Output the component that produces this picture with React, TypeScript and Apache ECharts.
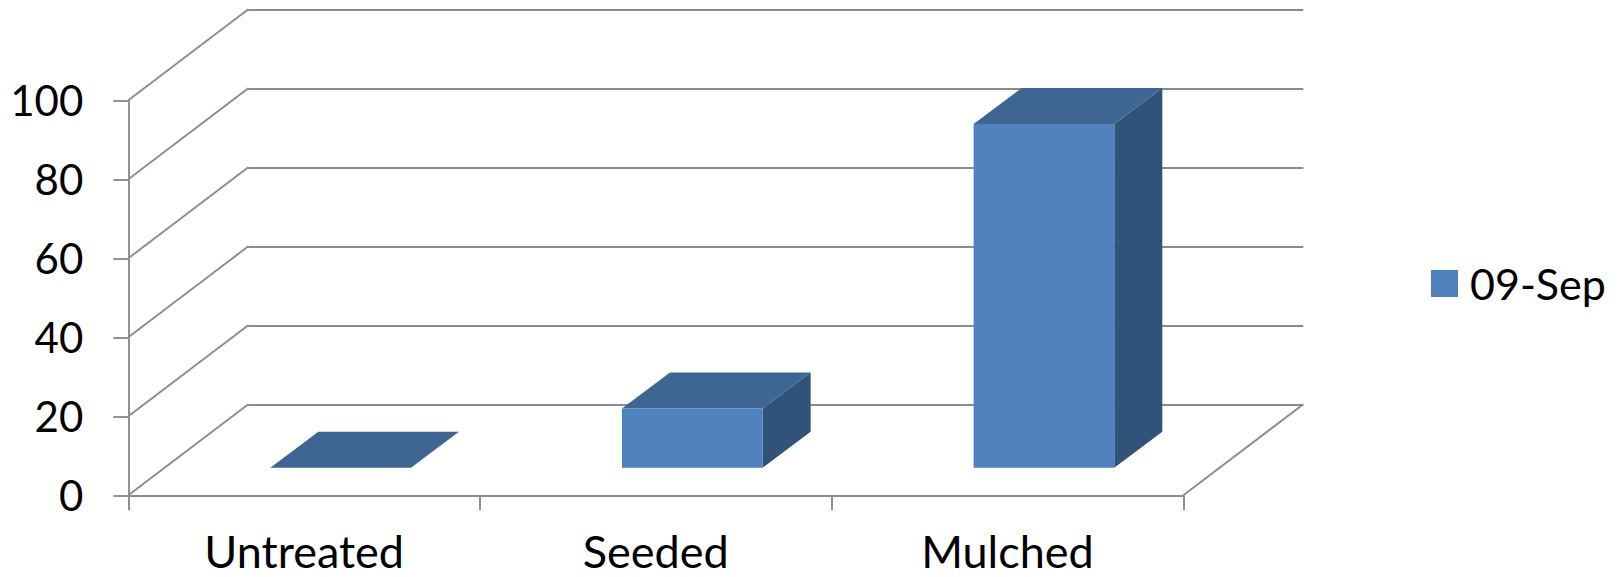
import React, { useEffect, useRef } from "react";
import * as echarts from "echarts";

const categories = ["Untreated", "Seeded", "Mulched"];
const seriesName = "09-Sep";
const seriesValues = [0, 15, 87];
const valueTicks = [0, 20, 40, 60, 80, 100];

const WIDTH = 1622;
const HEIGHT = 577;
const FONT = "Lato, 'Noto Sans', sans-serif";
const LINE = "#8c8c8c";
const LINE_WIDTH = 1.9;
const FRONT = "#4f81bd";
const TOP = "#3f6592";
const SIDE = "#325379";

// Plot box of the front plane; the rear wall is the same box pushed back by WALL_DX/WALL_DY.
const LEFT = 128.3;
const RIGHT = 1183.3;
const TOP_Y = 100.3;
const BOTTOM_Y = 495.3;
const WALL_DX = 120;
const WALL_DY = 91;
// Bars stand mid-way through the floor's depth.
const BAR_SHIFT_X = 36.5;
const BAR_SHIFT_Y = 27.6;
const BAR_DEPTH_X = 48;
const BAR_DEPTH_Y = 36;
const BAR_RATIO = 0.4;

const lineStyle = { stroke: LINE, lineWidth: LINE_WIDTH, fill: "none" };

export default function App() {
  const ref = useRef<HTMLDivElement>(null);

  useEffect(() => {
    if (!ref.current) return;
    document.body.style.margin = "0";
    const chart = echarts.init(ref.current, undefined, { renderer: "svg" });
    chart.setOption({
      animation: false,
      backgroundColor: "#ffffff",
      legend: {
        data: [{ name: seriesName, icon: "rect", itemStyle: { color: FRONT } }],
        left: 1426,
        top: 257,
        orient: "vertical",
        itemWidth: 27,
        itemHeight: 27,
        itemGap: 0,
        selectedMode: false,
        textStyle: { fontFamily: FONT, fontSize: 43, color: "#000000", padding: [0, 0, 0, 7] },
      },
      grid: [
        { left: LEFT, width: RIGHT - LEFT, top: TOP_Y, height: BOTTOM_Y - TOP_Y },
        {
          left: LEFT + WALL_DX,
          width: RIGHT - LEFT,
          top: TOP_Y - WALL_DY,
          height: BOTTOM_Y - TOP_Y,
        },
      ],
      xAxis: [
        {
          type: "category",
          gridIndex: 0,
          data: categories,
          axisLine: { lineStyle: { color: LINE, width: LINE_WIDTH } },
          axisTick: {
            show: true,
            alignWithLabel: false,
            length: 15,
            lineStyle: { color: LINE, width: LINE_WIDTH },
          },
          axisLabel: {
            interval: 0,
            fontFamily: FONT,
            fontSize: 45,
            color: "#000000",
            margin: 33,
          },
        },
        { type: "category", gridIndex: 1, data: categories, show: false },
      ],
      yAxis: [
        {
          type: "value",
          gridIndex: 0,
          min: 0,
          max: 100,
          interval: 20,
          axisLine: { show: true, lineStyle: { color: LINE, width: LINE_WIDTH } },
          axisTick: { show: true, length: 15, lineStyle: { color: LINE, width: LINE_WIDTH } },
          axisLabel: {
            fontFamily: FONT,
            fontSize: 42,
            color: "#000000",
            margin: 45,
            padding: [4, 0, 0, 0],
          },
          splitLine: { show: false },
        },
        {
          type: "value",
          gridIndex: 1,
          min: 0,
          max: 100,
          interval: 20,
          axisLine: { show: false },
          axisTick: { show: false },
          axisLabel: { show: false },
          splitLine: { show: true, lineStyle: { color: LINE, width: LINE_WIDTH } },
        },
      ],
      series: [
        {
          // Diagonals joining the side wall's gridlines to the front axis.
          type: "custom",
          name: "wall",
          xAxisIndex: 0,
          yAxisIndex: 0,
          silent: true,
          z: 1,
          data: valueTicks.map((v) => [0, v]),
          renderItem: (_params: any, api: any) => {
            const band = api.size([1, 0])[0];
            const p = api.coord([api.value(0), api.value(1)]);
            const x = p[0] - band / 2;
            return {
              type: "line",
              shape: { x1: x, y1: p[1], x2: x + WALL_DX, y2: p[1] - WALL_DY },
              style: lineStyle,
            };
          },
        },
        {
          // Right edge of the floor.
          type: "custom",
          name: "floor",
          xAxisIndex: 0,
          yAxisIndex: 0,
          silent: true,
          z: 1,
          data: [[categories.length - 1, 0]],
          renderItem: (_params: any, api: any) => {
            const band = api.size([1, 0])[0];
            const p = api.coord([api.value(0), api.value(1)]);
            const x = p[0] + band / 2;
            return {
              type: "line",
              shape: { x1: x, y1: p[1], x2: x + WALL_DX, y2: p[1] - WALL_DY },
              style: lineStyle,
            };
          },
        },
        {
          // Extruded columns: front face, top and right side.
          type: "custom",
          name: seriesName,
          xAxisIndex: 0,
          yAxisIndex: 0,
          z: 3,
          itemStyle: { color: FRONT },
          data: seriesValues.map((v, i) => [i, v]),
          renderItem: (_params: any, api: any) => {
            const band = api.size([1, 0])[0];
            const top = api.coord([api.value(0), api.value(1)]);
            const base = api.coord([api.value(0), 0]);
            const w = band * BAR_RATIO;
            const x0 = top[0] + BAR_SHIFT_X - w / 2;
            const x1 = x0 + w;
            const yTop = top[1] - BAR_SHIFT_Y;
            const yBase = base[1] - BAR_SHIFT_Y;
            const children: any[] = [
              {
                type: "polygon",
                shape: {
                  points: [
                    [x1, yTop],
                    [x1 + BAR_DEPTH_X, yTop - BAR_DEPTH_Y],
                    [x1 + BAR_DEPTH_X, yBase - BAR_DEPTH_Y],
                    [x1, yBase],
                  ],
                },
                style: { fill: SIDE },
              },
              {
                type: "polygon",
                shape: {
                  points: [
                    [x0, yTop],
                    [x0 + BAR_DEPTH_X, yTop - BAR_DEPTH_Y],
                    [x1 + BAR_DEPTH_X, yTop - BAR_DEPTH_Y],
                    [x1, yTop],
                  ],
                },
                style: { fill: TOP },
              },
              {
                type: "rect",
                shape: { x: x0, y: yTop, width: w, height: yBase - yTop },
                style: { fill: FRONT },
              },
            ];
            return { type: "group", children };
          },
        },
      ],
    });
    return () => chart.dispose();
  }, []);

  return (
    <div
      ref={ref}
      style={{ position: "fixed", left: 0, top: 0, width: WIDTH, height: HEIGHT }}
    />
  );
}
